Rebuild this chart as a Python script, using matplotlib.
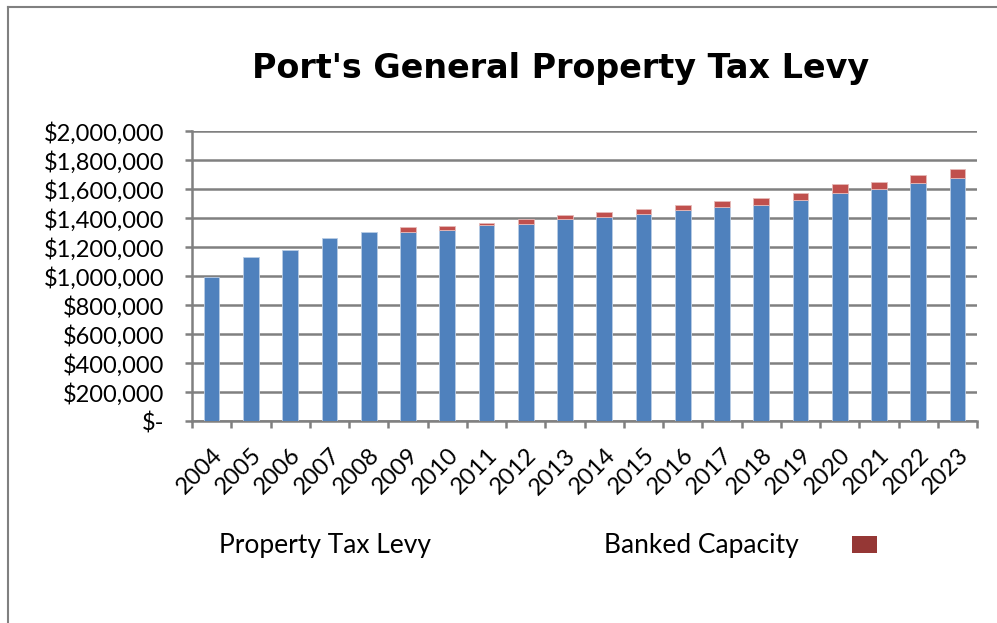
import matplotlib.pyplot as plt
from matplotlib.lines import Line2D
from matplotlib.patches import Rectangle
from matplotlib.ticker import FuncFormatter

years = ['2004', '2005', '2006', '2007', '2008', '2009', '2010', '2011', '2012', '2013',
         '2014', '2015', '2016', '2017', '2018', '2019', '2020', '2021', '2022', '2023']
levy = [991000, 1129000, 1181000, 1260000, 1303000, 1306000, 1315000, 1350000, 1359000, 1393000,
        1405000, 1430000, 1457000, 1474000, 1490000, 1526000, 1570000, 1598000, 1641000, 1678000]
banked = [0, 0, 0, 0, 0, 34000, 27000, 18000, 36000, 26000,
          34000, 34000, 35000, 45000, 46000, 44000, 62000, 52000, 53000, 60000]

blue = '#4f81bd'
red = '#c0504d'
grid_col = '#808080'
txt_font = 'Lato'


def money(v, pos):
    if v == 0:
        return '$-'
    return '${:,.0f}'.format(v)


def main():
    fig = plt.figure(figsize=(9.97, 6.23), dpi=100)
    ax = fig.add_axes([0.1926, 0.3242, 0.7874, 0.4655])

    x = list(range(len(years)))
    ax.bar(x, levy, width=0.4, color=blue, edgecolor='#b9cde5', linewidth=0.6, zorder=3)
    # no outline on the empty banked segments
    red_lw = [0.6 if b > 0 else 0 for b in banked]
    ax.bar(x, banked, bottom=levy, width=0.4, color=red, edgecolor='#e6b9b8', linewidth=red_lw, zorder=3)

    ax.set_xlim(-0.5, len(years) - 0.5)
    ax.set_ylim(0, 2000000)
    ax.set_yticks(range(0, 2000001, 200000))
    ax.yaxis.set_major_formatter(FuncFormatter(money))
    ax.grid(axis='y', color=grid_col, linewidth=1.8, zorder=1)

    for s in ['top', 'right']:
        ax.spines[s].set_visible(False)
    for s in ['left', 'bottom']:
        ax.spines[s].set_color(grid_col)
        ax.spines[s].set_linewidth(1.8)

    ax.set_xticks(x)
    ax.set_xticklabels(years, rotation=45, ha='right', rotation_mode='anchor',
                       fontsize=17, family=txt_font)
    ax.set_xticks([i - 0.5 for i in range(len(years) + 1)], minor=True)
    ax.tick_params(axis='x', which='major', length=0, pad=17)
    ax.tick_params(axis='x', which='minor', length=5, width=1.8, color=grid_col)
    ax.tick_params(axis='y', length=5, width=1.8, color=grid_col, pad=15)
    for lab in ax.get_yticklabels():
        lab.set_fontsize(17)
        lab.set_family(txt_font)

    fig.text(0.562, 0.89, "Port's General Property Tax Levy", ha='center', va='center',
             fontsize=24, fontweight='bold', family='DejaVu Sans')

    # legend drawn by hand
    fig.text(0.22, 0.125, 'Property Tax Levy', ha='left', va='center', fontsize=19, family=txt_font)
    fig.text(0.606, 0.125, 'Banked Capacity', ha='left', va='center', fontsize=19, family=txt_font)
    fig.patches.append(Rectangle((0.855, 0.113), 0.025, 0.026, transform=fig.transFigure,
                                 facecolor='#953735', edgecolor='none'))

    # outer frame, cut off on the right and bottom
    fig.lines.append(Line2D([0.008, 0.008], [0.0, 0.989], transform=fig.transFigure,
                            color=grid_col, linewidth=1.5))
    fig.lines.append(Line2D([0.008, 1.0], [0.989, 0.989], transform=fig.transFigure,
                            color=grid_col, linewidth=1.5))

    fig.savefig('out.png', dpi=100)


if __name__ == '__main__':
    main()
